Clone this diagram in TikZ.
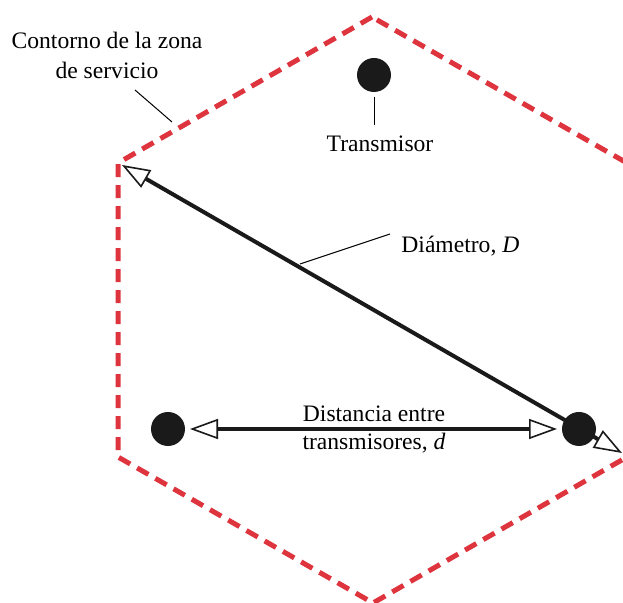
\documentclass[tikz,border=0pt]{standalone}
\usepackage{fontspec}
\setmainfont{Liberation Serif}
\usetikzlibrary{arrows.meta}
\definecolor{zonered}{RGB}{221,52,62}
\definecolor{dotblack}{RGB}{26,26,26}
\tikzset{
  >={Triangle[length=14pt,width=10pt,fill=white,line width=0.8pt]},
  zone/.style={draw=zonered, line width=2.5pt, dash pattern=on 6.5pt off 4pt},
  tx/.style={circle, fill=dotblack, minimum size=17pt, inner sep=0pt, outer sep=0pt},
  lbl/.style={font=\fontsize{11.8}{15}\selectfont, inner sep=0pt, align=center},
  leader/.style={draw=black, line width=0.5pt},
  arr/.style={draw=dotblack, line width=2pt, <->}
}
\begin{document}
\begin{tikzpicture}[x=0.5pt,y=-0.5pt]
\clip (0,0) rectangle (623,603);
% service zone contour
\draw[zone] (372,17) -- (118,163) -- (118,457) -- (373,603) -- (627,457) -- (627,163) -- cycle;
% diameter
\coordinate (dA) at (122,165);
\coordinate (dB) at (622,453);
\draw[arr] (dA) -- (dB);
% transmitters
\node[tx] (T) at (374,75) {};
\node[tx] (L) at (168,429) {};
\node[tx] (R) at (579,429) {};
% distance between transmitters
\draw[arr, shorten <=2.5pt, shorten >=2.5pt] (L) -- (R);
\node[lbl, anchor=base] (d1) at (374,422) {Distancia entre};
\node[lbl, anchor=base] (d2) at (374,450) {transmisores, \textit{d}};
% transmitter label
\node[lbl, anchor=base] (tlab) at (380,152) {Transmisor};
\draw[leader, shorten <=2.5pt, shorten >=5.5pt] (T.south) -- (T.south |- tlab.north);
% diameter label
\node[lbl, anchor=base west] (dlab) at (401,253) {Diámetro, \textit{D}};
\coordinate (dm) at (300,264);
\coordinate (dl) at (390,234);
\draw[leader] (dm) -- (dl);
% contour label
\node[lbl, anchor=north] (clab) at (107,32) {Contorno de la zona\\de servicio};
\coordinate (c1) at (135,90);
\coordinate (c2) at (172,122);
\draw[leader] (c1) -- (c2);
\end{tikzpicture}
\end{document}
